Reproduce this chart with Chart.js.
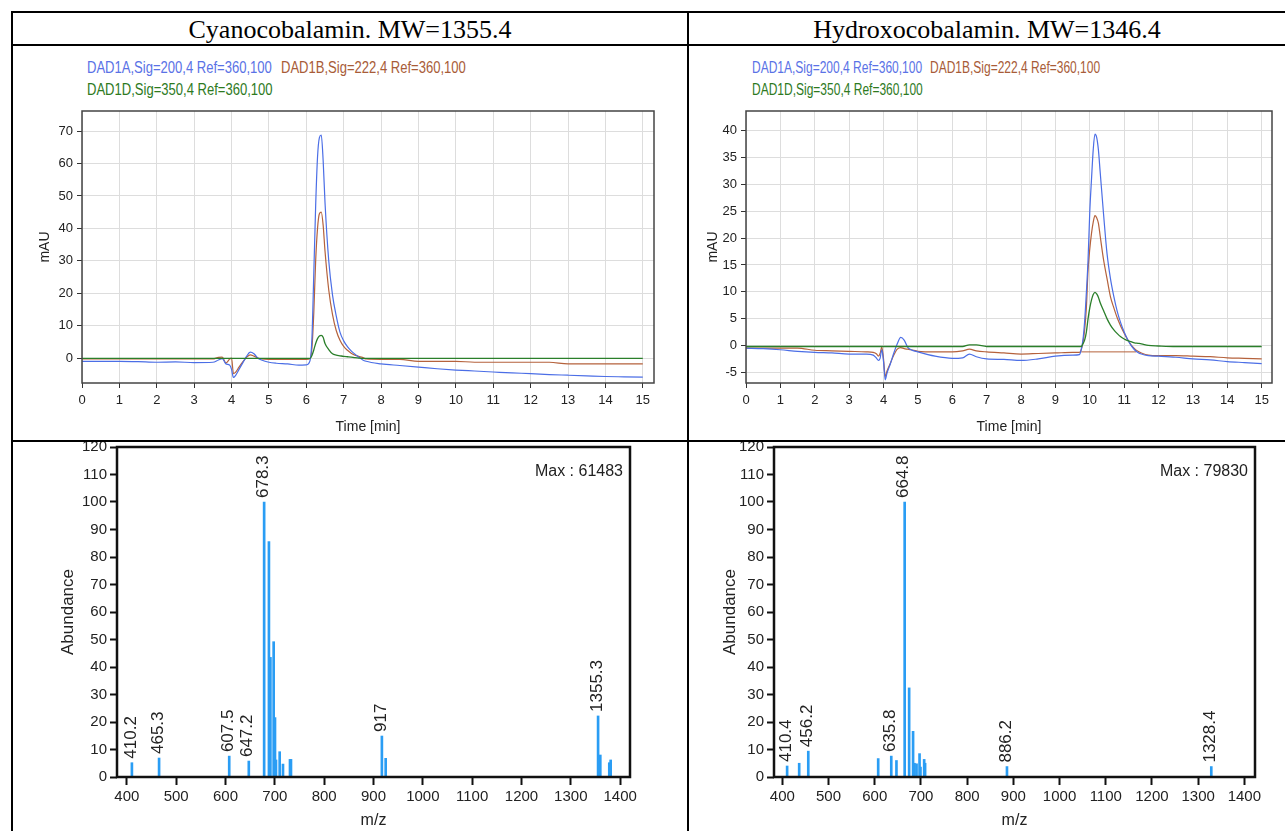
<!DOCTYPE html>
<html>
<head>
<meta charset="utf-8">
<script src="https://cdn.jsdelivr.net/npm/chart.js@4.4.1/dist/chart.umd.min.js"></script>
<style>
  body { margin: 0; width: 1285px; height: 831px; background: #fff; position: relative; overflow: hidden; }
  .ln { position: absolute; background: #000; }
  .head { position: absolute; top: 13px; height: 31px; line-height: 33px; text-align: center;
          font-family: 'Liberation Serif', 'Times New Roman', serif; font-size: 26px; color: #000; }
  .leg { position: absolute; white-space: nowrap; font-family: 'Liberation Sans', Arial, sans-serif;
         font-size: 16px; line-height: 22px; transform-origin: 0 50%; }
  canvas { position: absolute; }
</style>
</head>
<body>
<div class="ln" style="left:11px;top:11px;width:1274px;height:2px"></div>
<div class="ln" style="left:11px;top:44px;width:1274px;height:2px"></div>
<div class="ln" style="left:11px;top:440px;width:1274px;height:2px"></div>
<div class="ln" style="left:11px;top:11px;width:2px;height:820px"></div>
<div class="ln" style="left:687px;top:11px;width:2px;height:820px"></div>

<div class="head" style="left:13px;width:674px">Cyanocobalamin. MW=1355.4</div>
<div class="head" style="left:689px;width:596px">Hydroxocobalamin. MW=1346.4</div>

<div class="leg" style="left:87px;top:57px;color:#5a72e6;transform:scaleX(0.815)">DAD1A,Sig=200,4 Ref=360,100</div>
<div class="leg" style="left:281px;top:57px;color:#a85c38;transform:scaleX(0.815)">DAD1B,Sig=222,4 Ref=360,100</div>
<div class="leg" style="left:87px;top:79px;color:#2e7a1e;transform:scaleX(0.815)">DAD1D,Sig=350,4 Ref=360,100</div>
<div class="leg" style="left:752px;top:57px;color:#5a72e6;transform:scaleX(0.75)">DAD1A,Sig=200,4 Ref=360,100</div>
<div class="leg" style="left:930px;top:57px;color:#a85c38;transform:scaleX(0.75)">DAD1B,Sig=222,4 Ref=360,100</div>
<div class="leg" style="left:752px;top:79px;color:#2e7a1e;transform:scaleX(0.75)">DAD1D,Sig=350,4 Ref=360,100</div>

<canvas id="cnLc" width="672" height="338" style="left:14px;top:100px"></canvas>
<canvas id="hcLc" width="594" height="338" style="left:690px;top:100px"></canvas>
<canvas id="cnMs" width="672" height="389" style="left:14px;top:442px"></canvas>
<canvas id="hcMs" width="594" height="389" style="left:690px;top:442px"></canvas>

<script>
// Cyanocobalamin chromatogram (time in min, signal in mAU)
var cnTime = [0, 0.5, 1, 1.5, 2, 2.5, 3, 3.5, 3.65, 3.75, 3.85, 3.95, 4.0, 4.05, 4.1, 4.2, 4.3, 4.4, 4.5, 4.6, 4.7, 4.8, 5.0, 5.2, 5.5, 5.8, 6.0, 6.1, 6.15, 6.2, 6.25, 6.3, 6.35, 6.4, 6.45, 6.5, 6.6, 6.7, 6.8, 6.9, 7.0, 7.1, 7.2, 7.3, 7.4, 7.5, 7.6, 8, 8.5, 9, 9.5, 10, 10.5, 11, 11.5, 12, 12.5, 13, 13.5, 14, 14.5, 15];
var cnA = [-1.0, -1.0, -1.0, -1.1, -1.3, -1.2, -1.4, -1.3, -0.6, -0.2, -1.8, -2.2, -3.5, -6.0, -5.5, -3.5, -1.5, 0.5, 1.8, 1.3, 0.0, -0.6, -1.3, -1.6, -1.8, -2.2, -2.1, -0.8, 6, 26, 47, 62, 68, 68.8, 61, 48, 30, 19.5, 13, 8, 5.3, 3.5, 2.2, 1.2, 0.3, -0.5, -1.0, -1.8, -2.3, -2.8, -3.3, -3.7, -4.0, -4.3, -4.6, -4.8, -5.1, -5.3, -5.5, -5.7, -5.8, -5.9];
var cnB = [-0.3, -0.3, -0.3, -0.3, -0.3, -0.3, -0.3, -0.3, 0.2, 0.3, -1.5, -0.3, 0.0, -4.8, -4.5, -2.8, -1.2, 0.2, 1.0, 0.6, 0.0, -0.3, -0.4, -0.4, -0.4, -0.4, -0.4, -0.2, 3, 14, 30, 40, 44.5, 45, 41, 33, 21, 13.5, 8.5, 5.5, 3.6, 2.4, 1.5, 0.9, 0.5, 0.2, -0.3, -0.4, -0.4, -1.0, -1.0, -1.0, -1.3, -1.3, -1.3, -1.3, -1.3, -1.8, -1.8, -1.8, -1.8, -1.8];
var cnD = [-0.1, -0.1, -0.1, -0.1, -0.1, -0.1, -0.1, -0.1, -0.1, -0.1, -0.1, -0.1, -0.1, -0.1, -0.1, -0.1, -0.1, -0.1, -0.1, -0.1, -0.1, -0.1, -0.1, -0.1, -0.1, -0.1, -0.1, -0.1, 0.8, 2.5, 4.5, 6.0, 6.8, 7.0, 6.4, 4.5, 2.6, 1.3, 0.9, 0.7, 0.5, 0.4, 0.3, 0.1, 0.0, -0.1, -0.1, -0.1, -0.1, -0.1, -0.1, -0.1, -0.1, -0.1, -0.1, -0.1, -0.1, -0.1, -0.1, -0.1, -0.1, -0.1];

// Hydroxocobalamin chromatogram
var hcTime = [0, 0.5, 1, 1.5, 2, 2.5, 3, 3.5, 3.7, 3.8, 3.85, 3.9, 3.95, 4.0, 4.05, 4.1, 4.2, 4.3, 4.4, 4.5, 4.6, 4.7, 4.8, 5.0, 5.5, 6.0, 6.3, 6.5, 6.7, 7.0, 7.5, 8.0, 8.5, 9.0, 9.5, 9.7, 9.75, 9.8, 9.85, 9.9, 9.95, 10.0, 10.05, 10.1, 10.15, 10.2, 10.25, 10.3, 10.4, 10.5, 10.6, 10.7, 10.8, 10.9, 11.0, 11.1, 11.2, 11.3, 11.4, 11.5, 11.7, 12, 12.5, 13, 13.5, 14, 14.5, 15];
var hcA = [-0.5, -0.6, -0.8, -1.1, -1.3, -1.4, -1.6, -1.6, -1.8, -2.4, -2.8, -2.4, -0.8, -3.0, -6.4, -5.2, -3.4, -1.4, 0.3, 1.5, 1.0, -0.3, -0.8, -1.2, -2.0, -2.4, -2.3, -1.6, -2.1, -2.5, -2.6, -2.8, -2.5, -2.0, -1.8, -1.7, -0.8, 1.0, 4.5, 9.8, 16, 25, 31, 36.5, 39.4, 38.8, 36.5, 32.5, 24.5, 17.2, 12.5, 9.1, 6.3, 4.2, 2.5, 1.1, 0.0, -0.8, -1.3, -1.6, -1.9, -2.0, -2.2, -2.5, -2.7, -3.0, -3.2, -3.4];
var hcB = [-0.5, -0.5, -0.5, -0.5, -0.9, -1.0, -1.1, -1.2, -1.3, -1.6, -2.0, -1.5, -0.3, -2.5, -5.8, -4.8, -3.3, -1.8, -0.7, -0.4, -0.6, -0.7, -0.8, -1.1, -1.2, -1.2, -1.0, -0.7, -1.0, -1.2, -1.4, -1.6, -1.5, -1.4, -1.3, -1.3, -0.8, 0.5, 2.9, 7.0, 14.1, 18, 20.9, 23, 24.2, 23.8, 22.8, 20.5, 16, 12.5, 9.1, 7.0, 5.1, 3.6, 2.3, 1.1, 0.1, -0.6, -1.1, -1.4, -1.8, -1.9, -1.9, -2.0, -2.1, -2.3, -2.4, -2.5];
var hcD = [-0.2, -0.2, -0.2, -0.2, -0.2, -0.2, -0.2, -0.2, -0.2, -0.2, -0.2, -0.2, -0.2, -0.2, -0.2, -0.2, -0.2, -0.2, -0.2, -0.2, -0.2, -0.2, -0.2, -0.2, -0.2, -0.2, -0.2, 0.1, 0.1, -0.2, -0.2, -0.2, -0.2, -0.2, -0.2, -0.2, -0.2, 0.3, 1.0, 2.5, 5.0, 7.0, 8.5, 9.5, 9.9, 9.6, 9.0, 8.0, 6.5, 5.0, 3.8, 2.9, 2.2, 1.6, 1.2, 0.9, 0.7, 0.5, 0.4, 0.3, 0.0, -0.1, -0.2, -0.2, -0.2, -0.2, -0.2, -0.2];
var hcBaseT = [9.75, 11.35];
var hcBaseB = [-1.2, -1.2];

// Mass spectra (m/z, relative abundance %)
var cnMz = [410.2, 465.3, 607.5, 647.2, 678.3, 688, 691, 697.6, 700.3, 702.3, 709.8, 716.5, 730.7, 732.7, 917, 924.7, 1355.3, 1359.8, 1378, 1380.8];
var cnAb = [5.2, 6.9, 7.6, 5.8, 100, 85.6, 43.5, 49.2, 21.6, 6.2, 9.2, 4.7, 6.4, 6.4, 14.9, 6.8, 22.2, 8, 5.2, 6.2];
var cnTag = ['410.2', '465.3', '607.5', '647.2', '678.3', '', '', '', '', '', '', '', '', '', '917', '', '1355.3', '', '', ''];
var hcMz = [410.4, 436.5, 456.2, 607.5, 635.8, 647, 664.8, 674.5, 683, 686, 690.5, 697, 699, 707, 709, 886.2, 1328.4];
var hcAb = [4, 5, 9.4, 6.7, 7.6, 6, 100, 32.4, 16.6, 5, 4.8, 8.5, 3.6, 6.4, 5, 3.8, 3.8];
var hcTag = ['410.4', '', '456.2', '', '635.8', '', '664.8', '', '', '', '', '', '', '', '', '886.2', '1328.4'];

var sans = "'Liberation Sans', Arial, sans-serif";

function pts(xs, ys) {
  return xs.map(function (x, i) { return { x: x, y: ys[i] }; });
}

var frame = {
  id: 'frame',
  afterDatasetsDraw: function (chart, args, opts) {
    var a = chart.chartArea, ctx = chart.ctx;
    ctx.save();
    ctx.strokeStyle = opts.color;
    ctx.lineWidth = opts.width;
    ctx.strokeRect(a.left, a.top, a.right - a.left, a.bottom - a.top);
    ctx.restore();
  }
};

var tags = {
  id: 'tags',
  afterDatasetsDraw: function (chart, args, opts) {
    if (!opts.mz) return;
    var ctx = chart.ctx, xs = chart.scales.x, ys = chart.scales.y, a = chart.chartArea;
    ctx.save();
    ctx.fillStyle = '#222';
    ctx.font = '17px ' + sans;
    opts.mz.forEach(function (m, i) {
      if (!opts.text[i]) return;
      ctx.save();
      ctx.translate(xs.getPixelForValue(m) - 1, ys.getPixelForValue(opts.ab[i]) - 4);
      ctx.rotate(-Math.PI / 2);
      ctx.textAlign = 'left';
      ctx.textBaseline = 'middle';
      ctx.fillText(opts.text[i], 0, 0);
      ctx.restore();
    });
    ctx.font = '16px ' + sans;
    ctx.textAlign = 'right';
    ctx.textBaseline = 'middle';
    ctx.fillText(opts.max, a.right - 7, a.top + 25);
    ctx.restore();
  }
};

function lcChart(id, t, a, b, d, extra, yMin, yMax, yStep, yWidth, padRight, yTitlePad) {
  var sets = [
    { data: pts(t, d), borderColor: '#2a7f2a', borderWidth: 1.3 },
    { data: pts(t, a), borderColor: '#4b6ee6', borderWidth: 1.2 },
    { data: pts(t, b), borderColor: '#b5623c', borderWidth: 1.2 }
  ].concat(extra);
  sets.forEach(function (s) { s.pointRadius = 0; s.cubicInterpolationMode = 'monotone'; s.fill = false; });
  return new Chart(document.getElementById(id), {
    type: 'line',
    data: { datasets: sets },
    options: {
      responsive: false,
      animation: false,
      layout: { padding: { top: 11, right: padRight, left: 0, bottom: 0 } },
      plugins: { legend: { display: false }, tooltip: { enabled: false }, frame: { color: '#444', width: 1.5 } },
      scales: {
        x: {
          type: 'linear', min: 0, max: 15.3,
          ticks: { stepSize: 1, includeBounds: false, padding: 5, color: '#222', font: { family: sans, size: 13 } },
          grid: { color: '#dddddd', tickColor: '#333', tickLength: 5, lineWidth: 1 },
          border: { display: false },
          title: { display: true, text: 'Time [min]', color: '#222', font: { family: sans, size: 14 }, padding: { top: 0, bottom: 2 } },
          afterFit: function (s) { s.height = 55; s.paddingLeft = 0; s.paddingRight = 0; }
        },
        y: {
          min: yMin, max: yMax,
          ticks: { stepSize: yStep, includeBounds: false, padding: 4, color: '#222', font: { family: sans, size: 13 } },
          grid: { color: '#dddddd', tickColor: '#333', tickLength: 5, lineWidth: 1 },
          border: { display: false },
          title: { display: true, text: 'mAU', color: '#222', font: { family: sans, size: 14 }, padding: { top: yTitlePad, bottom: 0 } },
          afterFit: function (s) { s.width = yWidth; s.paddingTop = 0; s.paddingBottom = 0; }
        }
      }
    },
    plugins: [frame]
  });
}

function msChart(id, mz, ab, tag, max, xMin, xMax, yWidth, padRight, yTitlePad) {
  return new Chart(document.getElementById(id), {
    type: 'bar',
    data: { datasets: [{ data: pts(mz, ab), backgroundColor: '#2a9df4', barThickness: 2, borderWidth: 0 }] },
    options: {
      responsive: false,
      animation: false,
      layout: { padding: { top: 5, right: padRight, left: 0, bottom: 0 } },
      plugins: {
        legend: { display: false }, tooltip: { enabled: false },
        frame: { color: '#111', width: 2.5 },
        tags: { mz: mz, ab: ab, text: tag, max: max }
      },
      scales: {
        x: {
          type: 'linear', min: xMin, max: xMax, offset: false,
          ticks: { stepSize: 100, includeBounds: false, padding: 3, color: '#222', font: { family: sans, size: 15 },
                   callback: function (v) { return String(v); } },
          grid: { drawOnChartArea: false, offset: false, tickColor: '#111', tickWidth: 2, tickLength: 8 },
          border: { display: false },
          title: { display: true, text: 'm/z', color: '#222', font: { family: sans, size: 16 }, padding: { top: 0, bottom: 1 } },
          afterFit: function (s) { s.height = 54; s.paddingLeft = 0; s.paddingRight = 0; }
        },
        y: {
          min: 0, max: 120,
          ticks: { stepSize: 10, includeBounds: false, padding: 3, color: '#222', font: { family: sans, size: 15 } },
          grid: { drawOnChartArea: false, tickColor: '#111', tickWidth: 2, tickLength: 7 },
          border: { display: false },
          title: { display: true, text: 'Abundance', color: '#222', font: { family: sans, size: 17 }, padding: { top: yTitlePad, bottom: 0 } },
          afterFit: function (s) { s.width = yWidth; s.paddingTop = 0; s.paddingBottom = 0; }
        }
      }
    },
    plugins: [frame, tags]
  });
}

lcChart('cnLc', cnTime, cnA, cnB, cnD, [], -7.7, 76.2, 10, 68, 32, 23);
lcChart('hcLc', hcTime, hcA, hcB, hcD,
  [{ data: pts(hcBaseT, hcBaseB), borderColor: '#b5623c', borderWidth: 1 }],
  -7, 43.7, 5, 56, 12, 15);
msChart('cnMs', cnMz, cnAb, cnTag, 'Max : 61483', 380, 1420, 103, 56, 44);
msChart('hcMs', hcMz, hcAb, hcTag, 'Max : 79830', 382, 1423, 84, 29, 30);
</script>
</body>
</html>
